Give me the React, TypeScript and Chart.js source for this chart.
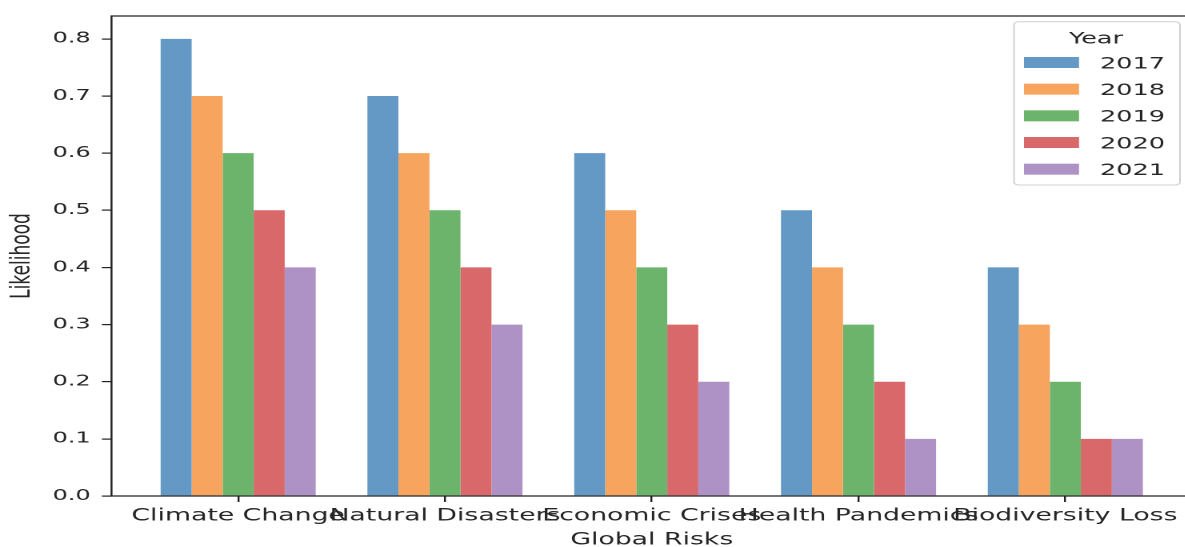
import { useEffect, useRef } from 'react';
import { Chart, registerables } from 'chart.js';

Chart.register(...registerables);

const categories = ['Climate Change', 'Natural Disasters', 'Economic Crises', 'Health Pandemics', 'Biodiversity Loss'];
const years = ['2017', '2018', '2019', '2020', '2021'];
const v2017 = [0.8, 0.7, 0.6, 0.5, 0.4];
const v2018 = [0.7, 0.6, 0.5, 0.4, 0.3];
const v2019 = [0.6, 0.5, 0.4, 0.3, 0.2];
const v2020 = [0.5, 0.4, 0.3, 0.2, 0.1];
const v2021 = [0.4, 0.3, 0.2, 0.1, 0.1];
const seriesValues = [v2017, v2018, v2019, v2020, v2021];
const seriesColors = ['#6399c4', '#f6a45e', '#6cb46c', '#d9686a', '#ae92c6'];
const yTickValues = [0, 0.1, 0.2, 0.3, 0.4, 0.5, 0.6, 0.7, 0.8];
const yTickLabels = ['0.0', '0.1', '0.2', '0.3', '0.4', '0.5', '0.6', '0.7', '0.8'];

const STRETCH = 1.6;
const W = 745;
const H = 550;
const FONT = "'DejaVu Sans', sans-serif";
const INK = '#262626';
const SPINE = '#222222';

const frameAndLegend = {
  id: 'frameAndLegend',
  afterDraw(chart: any) {
    const { ctx } = chart;
    const xs = chart.scales.x;
    const ys = chart.scales.y;
    const l = xs.getPixelForValue(xs.min);
    const r = xs.getPixelForValue(xs.max) + 10;
    const t = ys.getPixelForValue(ys.max);
    const b = ys.getPixelForValue(ys.min);
    ctx.save();
    ctx.strokeStyle = SPINE;
    ctx.lineWidth = 1.2;
    ctx.beginPath();
    ctx.moveTo(r, t);
    ctx.lineTo(l, t);
    ctx.lineTo(l, b);
    ctx.lineTo(r, b);
    ctx.stroke();

    const lx = 633.75, ly = 21.7, lw = 103.75, lh = 163.3;
    ctx.beginPath();
    ctx.roundRect(lx, ly, lw, lh, 3);
    ctx.fillStyle = 'rgba(255,255,255,0.8)';
    ctx.fill();
    ctx.strokeStyle = '#d0d0d0';
    ctx.lineWidth = 1;
    ctx.stroke();

    ctx.font = `16px ${FONT}`;
    ctx.fillStyle = INK;
    ctx.textAlign = 'center';
    ctx.textBaseline = 'alphabetic';
    ctx.fillText('Year', 685, 43.3);
    chart.data.datasets.forEach((ds: any, i: number) => {
      const cy = 62.5 + i * 26.67;
      ctx.fillStyle = ds.backgroundColor;
      ctx.fillRect(640, cy - 5.5, 34.4, 11);
      ctx.fillStyle = INK;
      ctx.textAlign = 'left';
      ctx.fillText(ds.label, 687.5, 68.3 + i * 26.67);
    });
    ctx.restore();
  },
};

export default function App() {
  const ref = useRef<HTMLCanvasElement | null>(null);

  useEffect(() => {
    if (!ref.current) return;
    const chart = new Chart(ref.current, {
      type: 'bar',
      data: {
        datasets: years.map((y, i) => ({
          label: y,
          data: categories.map((_, j) => ({ x: j, y: seriesValues[i][j] })),
          backgroundColor: seriesColors[i],
          borderWidth: 0,
          categoryPercentage: 0.75,
          barPercentage: 1,
        })),
      },
      options: {
        animation: false,
        responsive: true,
        maintainAspectRatio: false,
        devicePixelRatio: 2,
        layout: { padding: { top: 13.3, left: 0, right: 0, bottom: 0 } },
        plugins: {
          legend: { display: false },
          tooltip: { enabled: false },
        },
        scales: {
          x: {
            type: 'linear',
            min: -0.6125,
            max: 4.6125,
            offset: false,
            grid: { display: true, drawOnChartArea: false, drawTicks: true, tickLength: 6, color: SPINE, lineWidth: 1.2, offset: false },
            border: { display: false },
            ticks: {
              autoSkip: false, maxRotation: 0, minRotation: 0, padding: 4, color: INK,
              font: { family: FONT, size: 16.7 },
              callback: (v: any) => categories[v as number] ?? '',
            },
            afterBuildTicks: (s: any) => { s.ticks = categories.map((_, i) => ({ value: i })); },
            afterFit: (s: any) => { s.height = H - 496; },
            title: { display: true, text: 'Global Risks', color: INK, font: { family: FONT, size: 16.7 }, padding: { top: 0, bottom: 0 } },
          },
          y: {
            type: 'linear',
            min: 0,
            max: 0.84,
            grid: { display: true, drawOnChartArea: false, drawTicks: true, tickLength: 6, color: SPINE, lineWidth: 1.2 },
            border: { display: false },
            ticks: { padding: 7, color: INK, font: { family: FONT, size: 15 }, callback: (_v: any, i: number) => yTickLabels[i] },
            afterBuildTicks: (s: any) => { s.ticks = yTickValues.map((v) => ({ value: v })); },
            afterFit: (s: any) => { s.width = 69.7; },
            title: { display: true, text: 'Likelihood', color: INK, font: { family: FONT, size: 17 }, padding: { top: 4, bottom: 0 } },
          },
        },
      } as any,
      plugins: [frameAndLegend],
    });
    return () => chart.destroy();
  }, []);

  return (
    <div style={{ position: 'fixed', left: 0, top: 0, width: 1185, height: 547, overflow: 'hidden', background: '#ffffff' }}>
      <div style={{ width: W, height: H, transform: `scaleX(${STRETCH})`, transformOrigin: '0 0' }}>
        <canvas ref={ref} />
      </div>
    </div>
  );
}
